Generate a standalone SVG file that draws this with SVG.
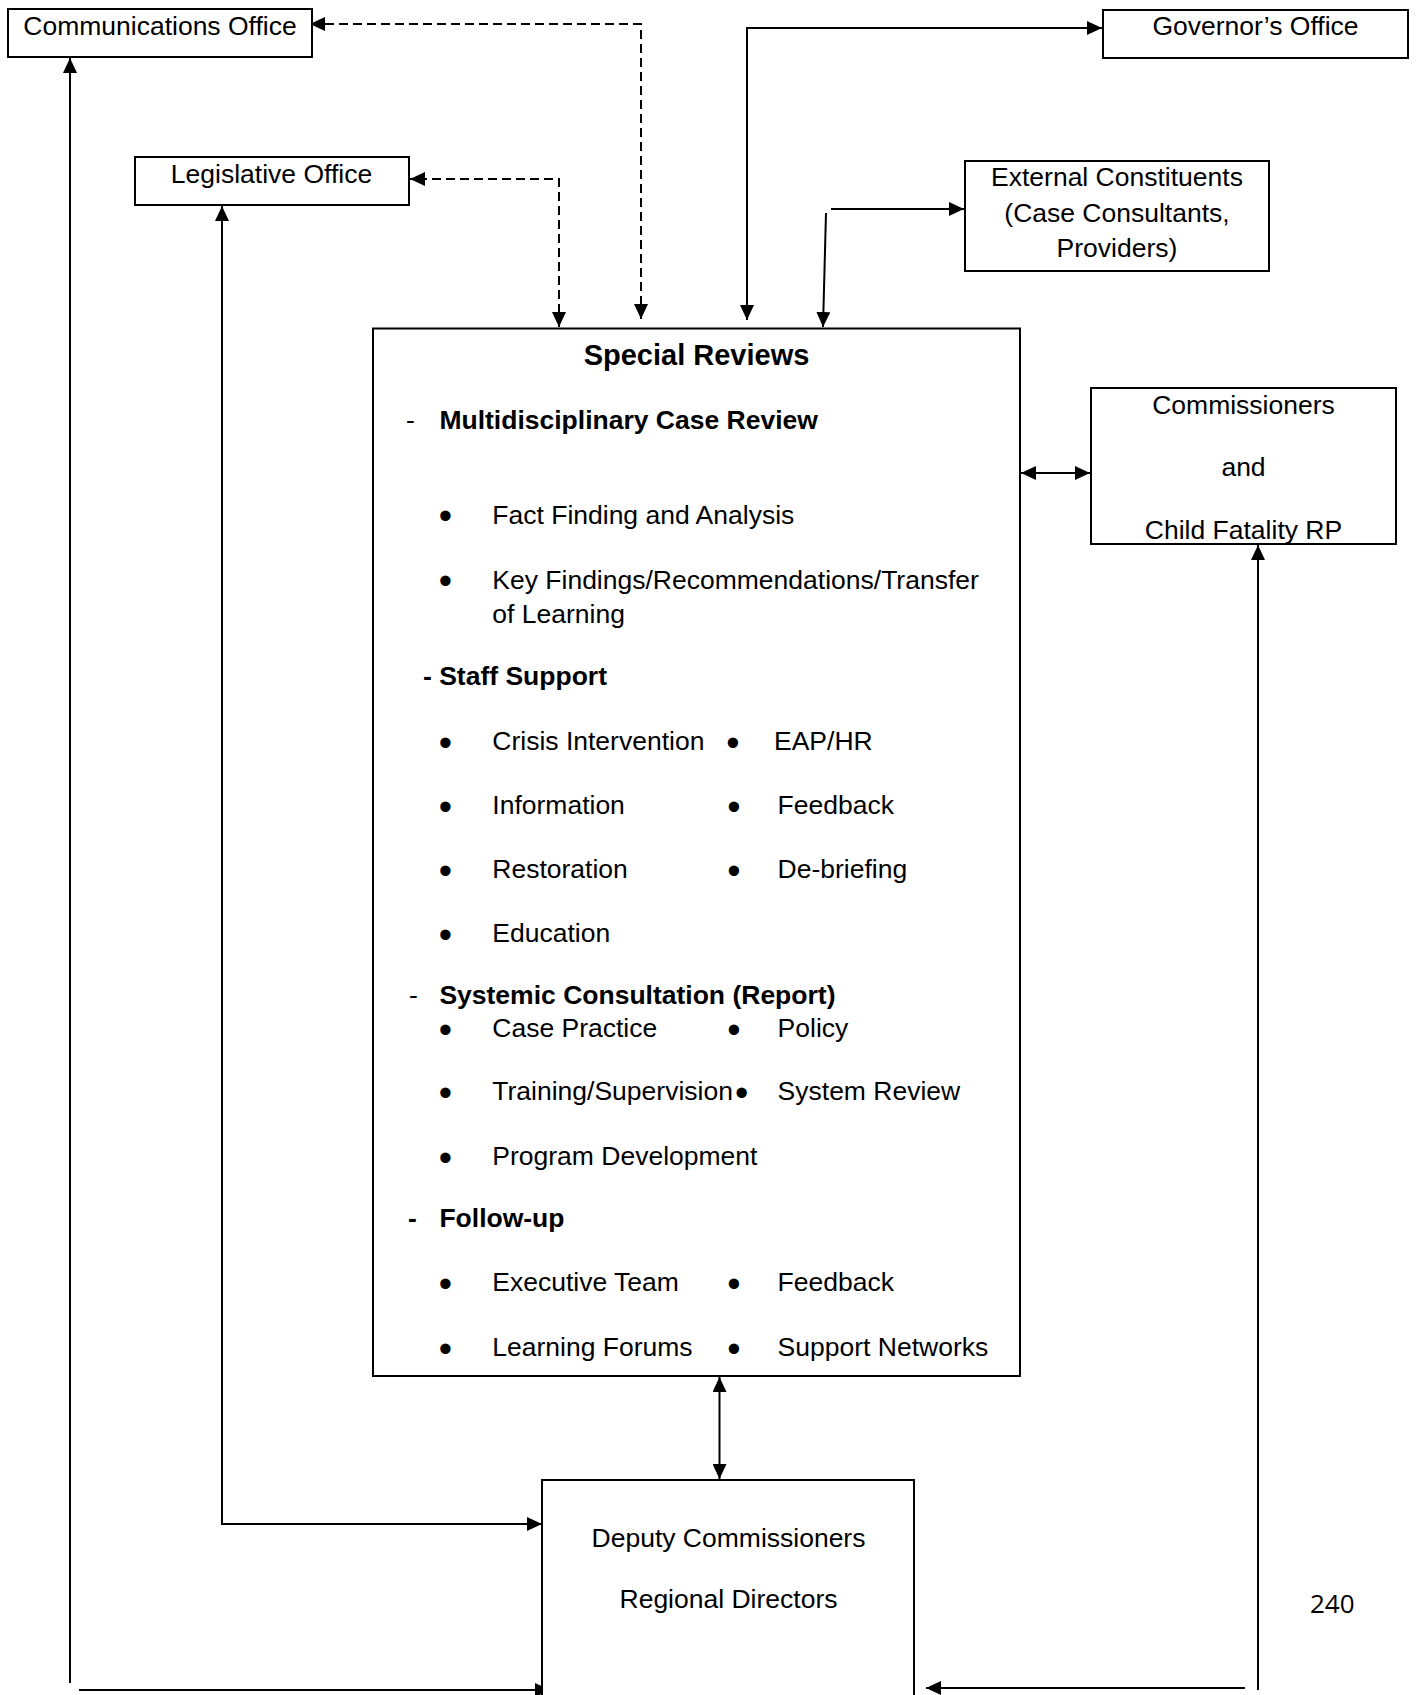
<svg xmlns="http://www.w3.org/2000/svg" width="1416" height="1695" viewBox="0 0 1416 1695">
<style>
.box{fill:#fff;stroke:#000;stroke-width:2}
.t{font-family:"Liberation Sans",Arial,sans-serif;font-size:26.5px;fill:#000}
.c{text-anchor:middle}
.b{font-weight:bold}
.u{font-family:"Liberation Sans",Arial,sans-serif;font-size:38px;text-anchor:middle}
.h{font-family:"Liberation Sans",Arial,sans-serif;font-size:29px;font-weight:bold;text-anchor:middle}
.ln{fill:none;stroke:#000;stroke-width:2}
.dash{stroke-dasharray:9 5}
.pg{font-family:"Open Sans","Noto Sans",sans-serif;font-size:26px}
</style>
<defs>
<marker id="ah" viewBox="0 0 15 14" refX="15" refY="7" markerWidth="15" markerHeight="14" markerUnits="userSpaceOnUse" orient="auto-start-reverse">
<path d="M0,0 L15,7 L0,14 z" fill="#000"/>
</marker>
</defs>
<rect width="1416" height="1695" fill="#fff"/>
<g id="connectors">
<path class="ln dash" d="M641,319 V24 H310" marker-start="url(#ah)" marker-end="url(#ah)"/>
<path class="ln dash" d="M559,327 V179 H410" marker-start="url(#ah)" marker-end="url(#ah)"/>
<path class="ln" d="M747,320 V28 H1102" marker-start="url(#ah)" marker-end="url(#ah)"/>
<path class="ln" d="M831,209 H964" marker-end="url(#ah)"/>
<path class="ln" d="M826,213 L823,327" marker-end="url(#ah)"/>
<path class="ln" d="M1021,473 H1090" marker-start="url(#ah)" marker-end="url(#ah)"/>
<path class="ln" d="M1258,1690 V545" marker-end="url(#ah)"/>
<path class="ln" d="M1245,1688 H926" marker-end="url(#ah)"/>
<path class="ln" d="M70,1683 V58" marker-end="url(#ah)"/>
<path class="ln" d="M79,1690 H550" marker-end="url(#ah)"/>
<path class="ln" d="M222,206 V1524 H542" marker-start="url(#ah)" marker-end="url(#ah)"/>
<path class="ln" d="M719.5,1377 V1479" marker-start="url(#ah)" marker-end="url(#ah)"/>
</g>
<g id="communications-office">
<rect class="box" x="8" y="9" width="304" height="48"/>
<text class="t c" x="160" y="34.5">Communications Office</text>
</g>
<g id="legislative-office">
<rect class="box" x="135" y="157" width="274" height="48"/>
<text class="t c" x="271.5" y="182.5">Legislative Office</text>
</g>
<g id="governors-office">
<rect class="box" x="1103" y="10" width="305" height="48"/>
<text class="t c" x="1255.5" y="35">Governor’s Office</text>
</g>
<g id="external-constituents">
<rect class="box" x="965" y="161" width="304" height="110"/>
<text class="t c" x="1117" y="186">External Constituents</text>
<text class="t c" x="1117" y="221.5">(Case Consultants,</text>
<text class="t c" x="1117" y="257">Providers)</text>
</g>
<g id="commissioners">
<rect class="box" x="1091" y="388" width="305" height="156"/>
<text class="t c" x="1243.5" y="414">Commissioners</text>
<text class="t c" x="1243.5" y="476">and</text>
<text class="t c" x="1243.5" y="539">Child Fatality RP</text>
</g>
<g id="special-reviews">
<rect class="box" x="373" y="328.5" width="647" height="1047.5"/>
<text class="h" x="696.5" y="365">Special Reviews</text>
<text class="t" x="406" y="429">-</text>
<text class="t b" x="439.4" y="429">Multidisciplinary Case Review</text>
<text class="u" x="445.5" y="529">•</text>
<text class="t" x="492.3" y="523.5">Fact Finding and Analysis</text>
<text class="u" x="445.5" y="594">•</text>
<text class="t" x="492.3" y="588.5">Key Findings/Recommendations/Transfer</text>
<text class="t" x="492.3" y="622.5">of Learning</text>
<text class="t b" x="423" y="685">- Staff Support</text>
<text class="u" x="445.5" y="755.5">•</text>
<text class="t" x="492.3" y="750">Crisis Intervention</text>
<text class="u" x="733" y="755.5">•</text>
<text class="t" x="774" y="750">EAP/HR</text>
<text class="u" x="445.5" y="819.5">•</text>
<text class="t" x="492.3" y="814">Information</text>
<text class="u" x="734" y="819.5">•</text>
<text class="t" x="777.6" y="814">Feedback</text>
<text class="u" x="445.5" y="883.5">•</text>
<text class="t" x="492.3" y="878">Restoration</text>
<text class="u" x="734" y="883.5">•</text>
<text class="t" x="777.6" y="878">De-briefing</text>
<text class="u" x="445.5" y="947.5">•</text>
<text class="t" x="492.3" y="942">Education</text>
<text class="t" x="409" y="1004">-</text>
<text class="t b" x="439.4" y="1004">Systemic Consultation (Report)</text>
<text class="u" x="445.5" y="1042.5">•</text>
<text class="t" x="492.3" y="1037">Case Practice</text>
<text class="u" x="734" y="1042.5">•</text>
<text class="t" x="777.6" y="1037">Policy</text>
<text class="u" x="445.5" y="1105.5">•</text>
<text class="t" x="492.3" y="1100">Training/Supervision</text>
<text class="u" x="741.6" y="1105.5">•</text>
<text class="t" x="777.6" y="1100">System Review</text>
<text class="u" x="445.5" y="1170.5">•</text>
<text class="t" x="492.3" y="1165">Program Development</text>
<text class="t b" x="408" y="1227">-</text>
<text class="t b" x="439.4" y="1227">Follow-up</text>
<text class="u" x="445.5" y="1296.5">•</text>
<text class="t" x="492.3" y="1291">Executive Team</text>
<text class="u" x="734" y="1296.5">•</text>
<text class="t" x="777.6" y="1291">Feedback</text>
<text class="u" x="445.5" y="1361.5">•</text>
<text class="t" x="492.3" y="1356">Learning Forums</text>
<text class="u" x="734" y="1361.5">•</text>
<text class="t" x="777.6" y="1356">Support Networks</text>
</g>
<g id="deputy-commissioners">
<rect class="box" x="542" y="1480" width="372" height="260"/>
<text class="t c" x="728.5" y="1547">Deputy Commissioners</text>
<text class="t c" x="728.5" y="1608">Regional Directors</text>
</g>
<text class="pg" x="1310" y="1613">240</text>
</svg>
